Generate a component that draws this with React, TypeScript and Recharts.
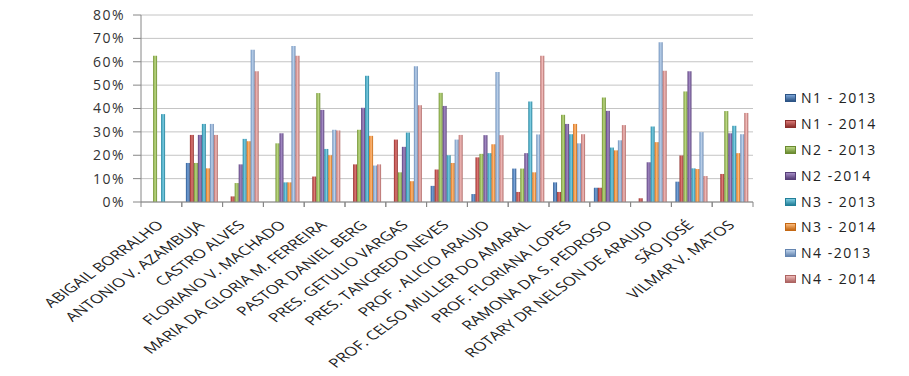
import { BarChart, Bar, XAxis, YAxis, CartesianGrid } from "recharts";

const schools = [
  "ABIGAIL BORRALHO",
  "ANTONIO V. AZAMBUJA",
  "CASTRO ALVES",
  "FLORIANO V. MACHADO",
  "MARIA DA GLORIA M. FERREIRA",
  "PASTOR DANIEL BERG",
  "PRES. GETULIO VARGAS",
  "PRES. TANCREDO NEVES",
  "PROF . ALICIO ARAUJO",
  "PROF. CELSO MULLER DO AMARAL",
  "PROF. FLORIANA LOPES",
  "RAMONA DA S. PEDROSO",
  "ROTARY DR NELSON DE ARAUJO",
  "SÃO JOSÉ",
  "VILMAR V. MATOS",
];

const seriesNames = [
  "N1 - 2013",
  "N1 - 2014",
  "N2 - 2013",
  "N2 -2014",
  "N3 - 2013",
  "N3 - 2014",
  "N4 -2013",
  "N4 - 2014",
];

const n1_2013 = [0, 16.7, 0, 0, 0, 0, 0, 6.9, 3.4, 14.3, 8.4, 6.1, 0, 8.7, 0];
const n1_2014 = [0, 28.7, 2.4, 0, 10.9, 16.1, 26.7, 13.9, 19.1, 4.3, 4.3, 6.1, 1.6, 19.9, 12];
const n2_2013 = [62.6, 16.7, 8.1, 25.1, 46.6, 30.9, 12.7, 46.7, 20.6, 14.3, 37.3, 44.7, 0, 47.3, 38.9];
const n2_2014 = [0, 28.7, 16.1, 29.4, 39.4, 40.3, 23.6, 41.1, 28.6, 20.9, 33.4, 39, 17, 55.9, 29.4];
const n3_2013 = [37.6, 33.4, 27, 8.4, 22.7, 54, 29.7, 20, 20.9, 43, 29, 23.3, 32.3, 14.4, 32.6];
const n3_2014 = [0, 14.4, 26, 8.4, 20, 28.3, 8.9, 16.7, 24.7, 12.7, 33.4, 22.1, 25.6, 14.1, 20.9];
const n4_2013 = [0, 33.4, 65.1, 66.7, 30.9, 15.6, 58.1, 26.7, 55.6, 28.9, 25.1, 26.4, 68.3, 29.9, 29];
const n4_2014 = [0, 28.7, 55.9, 62.6, 30.6, 16.1, 41.4, 28.7, 28.6, 62.6, 29, 32.9, 56.1, 11.1, 38.1];

const yTicks = [0, 10, 20, 30, 40, 50, 60, 70, 80];

const allSeries = [n1_2013, n1_2014, n2_2013, n2_2014, n3_2013, n3_2014, n4_2013, n4_2014];

// base, dark edge, light centre
const COLORS = [
  ["#4F81BD", "#2C5485", "#7AA3D6"],
  ["#C0504D", "#8C2F2C", "#DB7A77"],
  ["#9BBB59", "#6A8A30", "#BAD684"],
  ["#8064A2", "#573F78", "#A38BC4"],
  ["#4BACC6", "#237F98", "#7CCBE0"],
  ["#F79646", "#C46814", "#FBB97A"],
  ["#95B3D7", "#6485B0", "#BCD1EA"],
  ["#D99694", "#AD6462", "#EEBAB8"],
];

const rows = schools.map((name, i) => {
  const row: Record<string, string | number> = { name };
  allSeries.forEach((s, k) => {
    row[`s${k}`] = s[i];
  });
  return row;
});

const FONT = '"Open Sans", "DejaVu Sans", sans-serif';
// the original picture is stretched sideways, labels included
const STRETCH = 1.376;

function CategoryTick(props: any) {
  const { x, y, payload } = props;
  const half = payload?.offset || 20.4;
  const ax = x + 3;
  const ay = y + 24;
  return (
    <g>
      <line x1={x - half} y1={y} x2={x - half} y2={y + 5} stroke="#868686" />
      <line x1={x + half} y1={y} x2={x + half} y2={y + 5} stroke="#868686" />
      <text
        x={0}
        y={0}
        textAnchor="end"
        transform={`translate(${ax} ${ay}) scale(${STRETCH} 1) rotate(-45)`}
        fontSize={12.5}
        fontFamily={FONT}
        fill="#222"
      >
        {payload.value}
      </text>
    </g>
  );
}

export default function App() {
  return (
    <div
      style={{
        position: "relative",
        width: 909,
        height: 376,
        margin: -8,
        background: "#fff",
        fontFamily: FONT,
      }}
    >
      <BarChart
        width={909}
        height={376}
        data={rows}
        margin={{ top: 15, right: 156, bottom: 0, left: 0 }}
        barCategoryGap="10%"
        barGap={0}
      >
        <defs>
          {COLORS.map(([base, dark, light], k) => (
            <linearGradient key={k} id={`g${k}`} x1="0" y1="0" x2="1" y2="0">
              <stop offset="0%" stopColor={dark} />
              <stop offset="25%" stopColor={base} />
              <stop offset="55%" stopColor={light} />
              <stop offset="100%" stopColor={dark} />
            </linearGradient>
          ))}
        </defs>
        <CartesianGrid vertical={false} stroke="#c4c4c4" />
        <XAxis
          dataKey="name"
          interval={0}
          height={174}
          tickSize={0}
          tickMargin={0}
          tickLine={false}
          axisLine={{ stroke: "#868686" }}
          tick={<CategoryTick />}
        />
        <YAxis
          width={141}
          domain={[0, 80]}
          ticks={yTicks}
          tickFormatter={(v) => `${v}%`}
          tickSize={8}
          tickMargin={8}
          axisLine={{ stroke: "#868686" }}
          tickLine={{ stroke: "#868686" }}
          tick={{ fontSize: 14, fill: "#333", fontFamily: FONT, letterSpacing: 1.5 }}
        />
        {seriesNames.map((name, k) => (
          <Bar
            key={name}
            dataKey={`s${k}`}
            name={name}
            fill={`url(#g${k})`}
            isAnimationActive={false}
          />
        ))}
      </BarChart>
      <div style={{ position: "absolute", left: 785, top: 88 }}>
        {seriesNames.map((name, k) => (
          <div
            key={name}
            style={{
              height: 25.9,
              display: "flex",
              alignItems: "flex-start",
              fontSize: 14,
              letterSpacing: 1.5,
              color: "#222",
              whiteSpace: "nowrap",
            }}
          >
            <span
              style={{
                display: "inline-block",
                width: 11,
                height: 8,
                marginTop: 6,
                marginRight: 5,
                background: `linear-gradient(to bottom, ${COLORS[k][2]}, ${COLORS[k][1]})`,
                border: `1px solid ${COLORS[k][1]}`,
                boxSizing: "border-box",
              }}
            />
            <span style={{ lineHeight: "20px" }}>{name}</span>
          </div>
        ))}
      </div>
    </div>
  );
}
